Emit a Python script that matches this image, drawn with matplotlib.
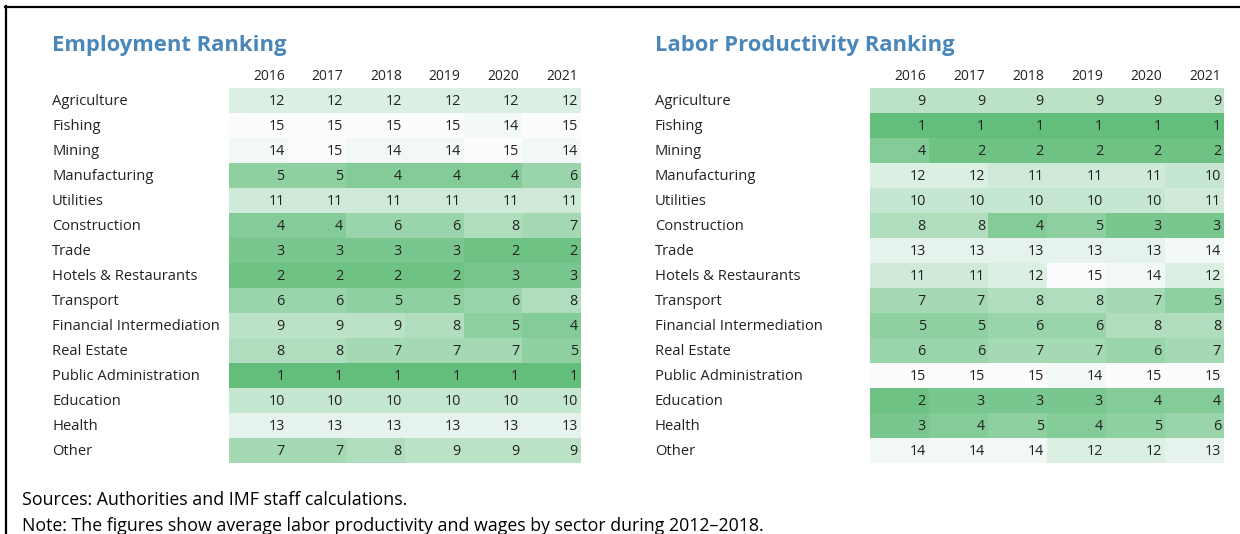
import matplotlib
matplotlib.use("Agg")
import matplotlib.pyplot as plt
import numpy as np
from matplotlib.colors import LinearSegmentedColormap
from matplotlib.lines import Line2D
import matplotlib.transforms as mtransforms

plt.rcParams['font.family'] = ['Open Sans', 'DejaVu Sans']

sectors = ["Agriculture", "Fishing", "Mining", "Manufacturing", "Utilities",
           "Construction", "Trade", "Hotels & Restaurants", "Transport",
           "Financial Intermediation", "Real Estate", "Public Administration",
           "Education", "Health", "Other"]
years = ["2016", "2017", "2018", "2019", "2020", "2021"]

employment = [
    [12, 12, 12, 12, 12, 12],
    [15, 15, 15, 15, 14, 15],
    [14, 15, 14, 14, 15, 14],
    [5, 5, 4, 4, 4, 6],
    [11, 11, 11, 11, 11, 11],
    [4, 4, 6, 6, 8, 7],
    [3, 3, 3, 3, 2, 2],
    [2, 2, 2, 2, 3, 3],
    [6, 6, 5, 5, 6, 8],
    [9, 9, 9, 8, 5, 4],
    [8, 8, 7, 7, 7, 5],
    [1, 1, 1, 1, 1, 1],
    [10, 10, 10, 10, 10, 10],
    [13, 13, 13, 13, 13, 13],
    [7, 7, 8, 9, 9, 9],
]
productivity = [
    [9, 9, 9, 9, 9, 9],
    [1, 1, 1, 1, 1, 1],
    [4, 2, 2, 2, 2, 2],
    [12, 12, 11, 11, 11, 10],
    [10, 10, 10, 10, 10, 11],
    [8, 8, 4, 5, 3, 3],
    [13, 13, 13, 13, 13, 14],
    [11, 11, 12, 15, 14, 12],
    [7, 7, 8, 8, 7, 5],
    [5, 5, 6, 6, 8, 8],
    [6, 6, 7, 7, 6, 7],
    [15, 15, 15, 14, 15, 15],
    [2, 3, 3, 3, 4, 4],
    [3, 4, 5, 4, 5, 6],
    [14, 14, 14, 12, 12, 13],
]
titles = ["Employment Ranking", "Labor Productivity Ranking"]
footnotes = ["Sources: Authorities and IMF staff calculations.",
             "Note: The figures show average labor productivity and wages by sector during 2012\u20132018."]

W, H = 1240, 534
fig = plt.figure(figsize=(W / 100, H / 100), dpi=100)
fig.patch.set_facecolor("white")

cmap = LinearSegmentedColormap.from_list("xlgreen", ["#63BE7B", "#FCFCFF"])
title_color = "#4A86B8"
text_color = "#222222"

def fx(px):
    return px / W

def fy(py):
    return 1 - py / H

panels = [
    dict(data=employment, title=titles[0], label_x=52, x0=229, x1=581),
    dict(data=productivity, title=titles[1], label_x=655, x0=870, x1=1224),
]
top, bottom = 88, 463

for p in panels:
    arr = np.array(p["data"])
    ax = fig.add_axes([fx(p["x0"]), fy(bottom), fx(p["x1"] - p["x0"]), (bottom - top) / H])
    ax.pcolormesh(np.arange(arr.shape[1] + 1), np.arange(arr.shape[0] + 1), arr,
                  cmap=cmap, vmin=1, vmax=15, shading="flat")
    ax.set_xlim(0, arr.shape[1])
    ax.set_ylim(arr.shape[0], 0)
    ax.set_axis_off()
    pad = 3 / ((p["x1"] - p["x0"]) / arr.shape[1])
    for i in range(arr.shape[0]):
        for j in range(arr.shape[1]):
            ax.text(j + 1 - pad, i + 0.54, str(arr[i, j]), ha="right", va="center",
                    fontsize=10.4, color=text_color)
    for j, yr in enumerate(years):
        ax.text(j + 1 - pad, -0.47, yr, ha="right", va="center", fontsize=10,
                color=text_color, clip_on=False)
    trans = mtransforms.blended_transform_factory(fig.transFigure, ax.transData)
    for i, s in enumerate(sectors):
        ax.text(fx(p["label_x"]), i + 0.54, s, transform=trans, ha="left", va="center",
                fontsize=10.6, color=text_color, clip_on=False)
    fig.text(fx(p["label_x"]), fy(46), p["title"], ha="left", va="center",
             fontsize=15.8, fontweight="bold", color=title_color)

fig.text(fx(22), fy(500), footnotes[0], ha="left", va="center", fontsize=12.8, color="black")
fig.text(fx(22), fy(526), footnotes[1], ha="left", va="center", fontsize=12.8, color="black")

fig.add_artist(Line2D([fx(5), fx(1240)], [fy(7), fy(7)], transform=fig.transFigure,
                      color="black", linewidth=1.6))
fig.add_artist(Line2D([fx(6), fx(6)], [fy(6), fy(534)], transform=fig.transFigure,
                      color="black", linewidth=1.6))

fig.savefig("out.png", dpi=100, facecolor="white")
